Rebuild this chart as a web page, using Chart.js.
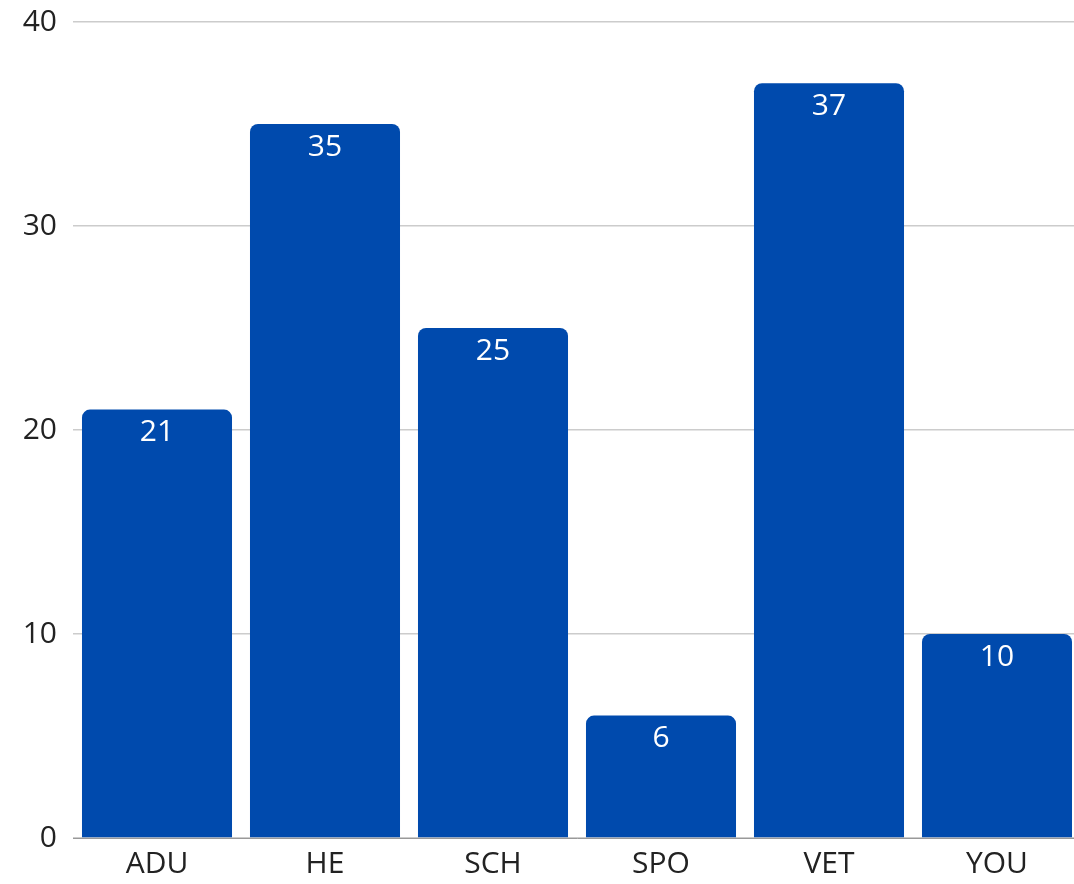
<!DOCTYPE html>
<html>
<head>
<meta charset="utf-8">
<script src="https://cdn.jsdelivr.net/npm/chart.js@4.4.0/dist/chart.umd.min.js"></script>
<style>
html,body{margin:0;padding:0;background:#fff;overflow:hidden;width:1074px;height:884px;}
#wrap{position:absolute;left:0;top:0;width:1081px;height:884px;}
</style>
</head>
<body>
<div id="wrap"><canvas id="c" width="1081" height="884"></canvas></div>
<script>
const categories = ["ADU", "HE", "SCH", "SPO", "VET", "YOU"];
const values = [21, 35, 25, 6, 37, 10];
const yTicks = [0, 10, 20, 30, 40];

const FONT = "'Open Sans', 'Noto Sans', sans-serif";

const valueLabels = {
  id: 'valueLabels',
  afterDatasetsDraw(chart) {
    const ctx = chart.ctx;
    const meta = chart.getDatasetMeta(0);
    ctx.save();
    ctx.fillStyle = '#ffffff';
    ctx.font = '30px ' + FONT;
    ctx.textAlign = 'center';
    ctx.textBaseline = 'middle';
    meta.data.forEach((bar, i) => {
      ctx.fillText(String(values[i]), bar.x, bar.y + 23);
    });
    ctx.restore();
  }
};

new Chart(document.getElementById('c'), {
  type: 'bar',
  data: {
    labels: categories,
    datasets: [{
      data: values,
      backgroundColor: '#004AAD',
      borderRadius: {topLeft: 8, topRight: 8, bottomLeft: 0, bottomRight: 0},
      borderSkipped: 'bottom',
      barPercentage: 0.893,
      categoryPercentage: 1.0
    }]
  },
  options: {
    responsive: false,
    animation: false,
    devicePixelRatio: 1,
    layout: {padding: {top: 22, right: 0, left: 0, bottom: 0}},
    plugins: {legend: {display: false}, tooltip: {enabled: false}},
    scales: {
      x: {
        grid: {display: false, drawTicks: false},
        border: {display: true, color: '#999999', width: 1},
        ticks: {color: '#222222', font: {family: FONT, size: 30}, padding: 8},
        afterFit(s) { s.height = 46; s.paddingLeft = 0; s.paddingRight = 0; }
      },
      y: {
        min: 0, max: 40,
        afterBuildTicks(s) { s.ticks = yTicks.map(v => ({value: v})); },
        grid: {color: '#cccccc', lineWidth: 1.5, drawTicks: false},
        border: {display: false},
        ticks: {color: '#222222', font: {family: FONT, size: 30}, padding: 16},
        afterFit(s) { s.width = 73; s.paddingTop = 0; s.paddingBottom = 0; }
      }
    }
  },
  plugins: [valueLabels]
});
</script>
</body>
</html>
